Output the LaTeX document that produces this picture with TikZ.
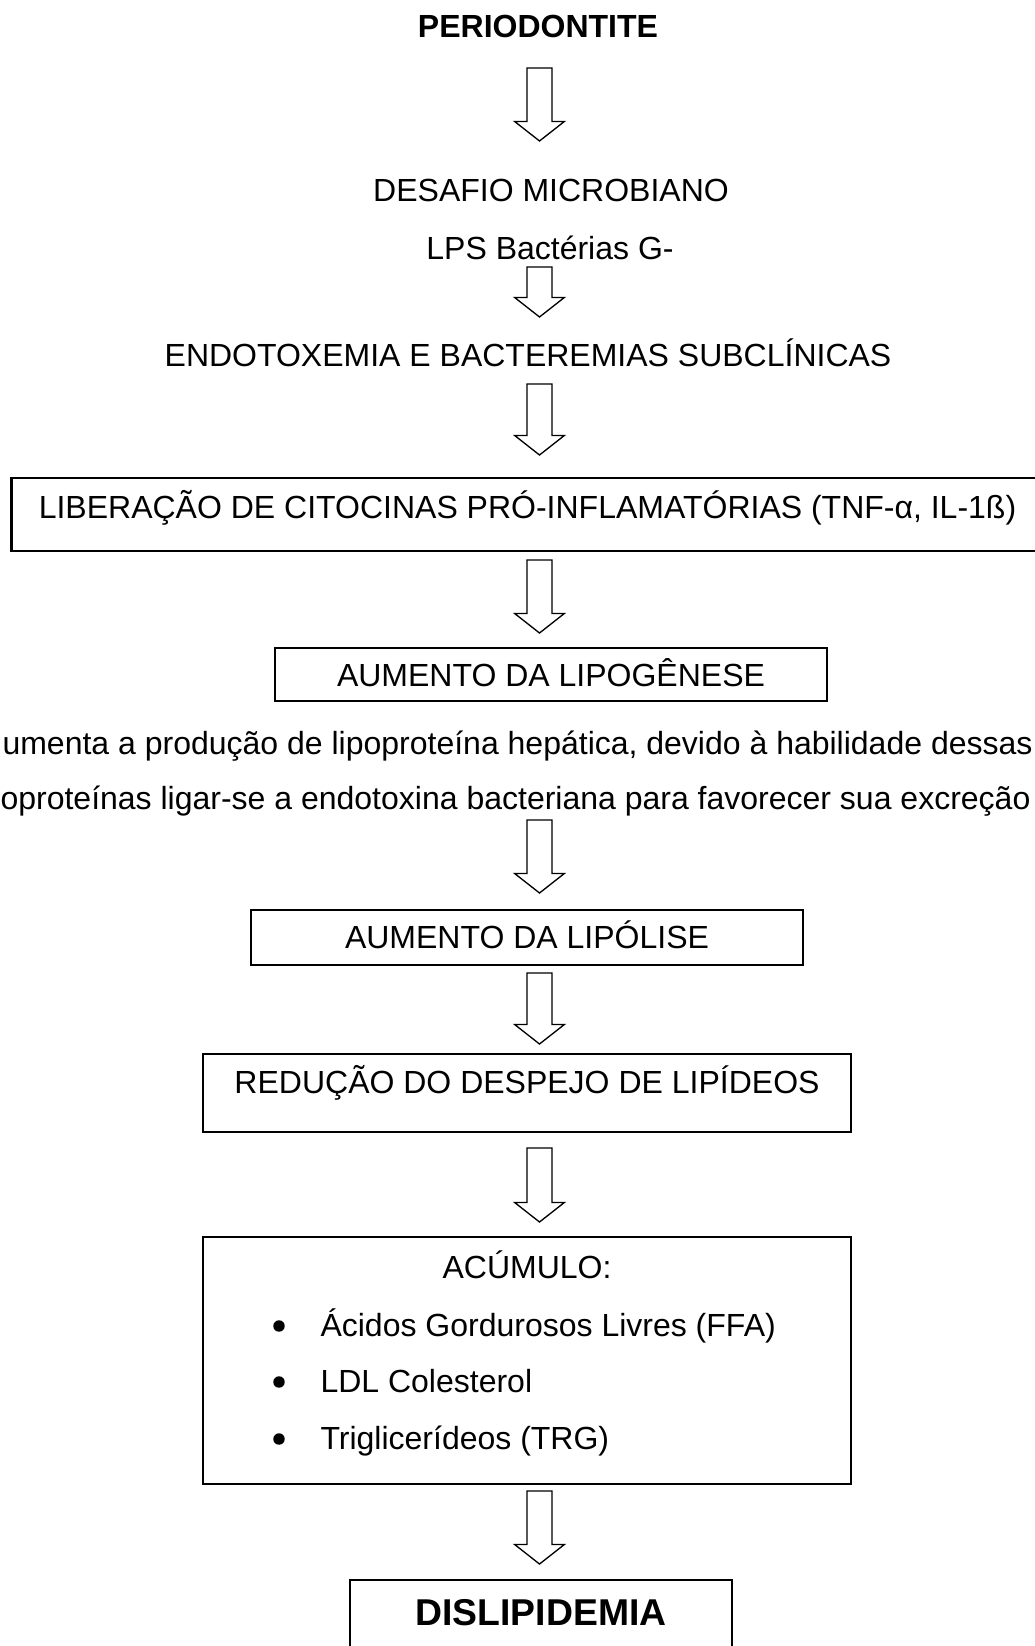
\documentclass[tikz,border=0pt]{standalone}
\usepackage{fontspec}
\setmainfont{Liberation Sans}
\usetikzlibrary{positioning}

\tikzset{
txt/.style={font=\fontsize{12pt}{14pt}\selectfont, inner sep=0pt, anchor=base},
bold/.style={font=\fontsize{12pt}{14pt}\selectfont\bfseries},
bigbold/.style={font=\fontsize{14pt}{17pt}\selectfont\bfseries},
box/.style={txt, draw, line width=0.8pt},
bigarrow/.style={draw, line width=0.5pt, fill=white, line join=miter},
dot/.style={circle, fill=black, inner sep=0pt, minimum size=4.3pt},
}

% block arrow pointing down: #1 top, #2 tip
\newcommand{\blockarrow}[2]{%
\draw[bigarrow] ([xshift=-4.7pt]#1) -- ([xshift=4.7pt]#1)
  -- ([xshift=4.7pt,yshift=7.3pt]#2) -- ([xshift=9.3pt,yshift=7.3pt]#2)
  -- (#2) -- ([xshift=-9.3pt,yshift=7.3pt]#2)
  -- ([xshift=-4.7pt,yshift=7.3pt]#2) -- cycle;}

\begin{document}
\begin{tikzpicture}[x=0.375pt, y=-0.375pt]
\useasboundingbox (0,0) rectangle (1034,1646);

%Nodes
\node[txt, bold] (peri)    at (538,38)  {PERIODONTITE};
\node[txt]       (desafio) at (551,202) {DESAFIO MICROBIANO};
\node[txt]       (lps)     at (550,260) {LPS Bactérias G-};
\node[txt]       (endo)    at (528,367) {ENDOTOXEMIA E BACTEREMIAS SUBCLÍNICAS};
% box runs on past the right edge of the page
\node[box, minimum width=408.2pt, text height=15.4pt, text depth=12pt] (lib) at (555.75,519)
  {LIBERAÇÃO DE CITOCINAS PRÓ-INFLAMATÓRIAS (TNF-α, IL-1ß)\hspace*{21.2pt}};
\node[box, minimum width=207pt, text height=14.25pt, text depth=5.6pt] (lipog) at (551,686)
  {AUMENTO DA LIPOGÊNESE};
\node[txt, anchor=base west] (par1) at (2,754)
  {umenta a produção de lipoproteína hepática, devido à habilidade dessas};
\node[txt, anchor=base west] (par2) at (0,809)
  {oproteínas ligar-se a endotoxina bacteriana para favorecer sua excreção};
\node[box, minimum width=207pt, text height=14.25pt, text depth=6.4pt] (lipol) at (527,948)
  {AUMENTO DA LIPÓLISE};
\node[box, minimum width=243pt, text height=14.6pt, text depth=14.6pt] (reduc) at (527,1093)
  {REDUÇÃO DO DESPEJO DE LIPÍDEOS};
\node[box, minimum width=243pt, text height=15.4pt, text depth=77.25pt] (acum) at (527,1278)
  {ACÚMULO:};
\foreach \y/\t [count=\i] in {1336/Ácidos Gordurosos Livres (FFA), 1392/LDL Colesterol, 1449/Triglicerídeos (TRG)} {
  \node[dot] (dot\i) at (279,\y-10) {};
  \node[txt, anchor=base west] (item\i) at (320,\y) {\t};
}
\node[box, bigbold, minimum width=143.25pt, text height=16.9pt, text depth=13.1pt] (disl) at (541,1625)
  {DISLIPIDEMIA};

%Arrows
\foreach \t/\b [count=\i] in {68/141, 267/317, 384/455, 560/633, 820/893, 973/1044, 1148/1222, 1491/1564} {
  \coordinate (top\i) at (539.5,\t);
  \coordinate (tip\i) at (539.5,\b);
  \blockarrow{top\i}{tip\i}
}
\end{tikzpicture}
\end{document}
